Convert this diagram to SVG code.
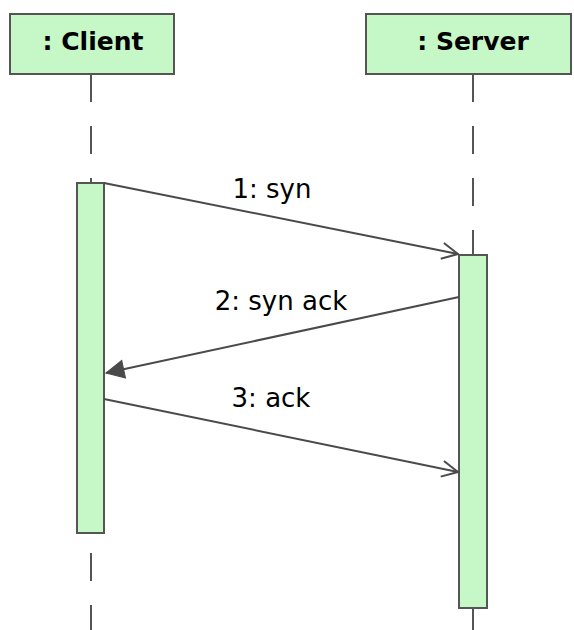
<svg xmlns="http://www.w3.org/2000/svg" width="574" height="630" viewBox="0 0 574 630">
<style>
.box{fill:#c6f7c6;stroke:#555;stroke-width:2}
.act{fill:#c6f7c6;stroke:#555;stroke-width:2}
.life{stroke:#555;stroke-width:2;fill:none;stroke-dasharray:28 24}
.msg{stroke:#4a4a4a;stroke-width:2;fill:none}
.hdr{font-family:"DejaVu Sans",sans-serif;font-weight:bold;font-size:25px;fill:#000;text-anchor:middle}
.lbl{font-family:"DejaVu Sans",sans-serif;font-size:26px;fill:#000;text-anchor:middle}
</style>
<defs>
<marker id="open" markerUnits="userSpaceOnUse" markerWidth="24" markerHeight="24" viewBox="-20 -12 24 24" refX="0" refY="0" orient="auto">
<path d="M-16,-8 L0,0 L-16,8" fill="none" stroke="#4a4a4a" stroke-width="2"/>
</marker>
<marker id="filled" markerUnits="userSpaceOnUse" markerWidth="24" markerHeight="24" viewBox="-20 -12 24 24" refX="0" refY="0" orient="auto">
<path d="M-18,-9 L0,0 L-18,9 Z" fill="#4a4a4a" stroke="#4a4a4a" stroke-width="1"/>
</marker>
</defs>
<g id="lifelines">
<line class="life" x1="91" y1="74" x2="91" y2="183"/>
<line class="life" x1="91" y1="553" x2="91" y2="630"/>
<line class="life" x1="473" y1="74" x2="473" y2="255"/>
<line class="life" x1="473" y1="608" x2="473" y2="630"/>
</g>
<g id="client">
<rect class="box" x="10" y="14" width="164" height="60"/>
<text class="hdr" x="93" y="50">: Client</text>
</g>
<g id="server">
<rect class="box" x="366" y="14" width="205" height="60"/>
<text class="hdr" x="473" y="50">: Server</text>
</g>
<g id="client-activation">
<rect class="act" x="77" y="183" width="27" height="350"/>
</g>
<g id="server-activation">
<rect class="act" x="459" y="255" width="28" height="353"/>
</g>
<g id="connectors">
<line class="msg" x1="104" y1="183" x2="458" y2="254" marker-end="url(#open)"/>
<line class="msg" x1="459" y1="297" x2="106" y2="373" marker-end="url(#filled)"/>
<line class="msg" x1="104" y1="399" x2="458" y2="472" marker-end="url(#open)"/>
</g>
<g id="labels">
<text class="lbl" x="272" y="198">1: syn</text>
<text class="lbl" x="281" y="310">2: syn ack</text>
<text class="lbl" x="271" y="407">3: ack</text>
</g>
</svg>
